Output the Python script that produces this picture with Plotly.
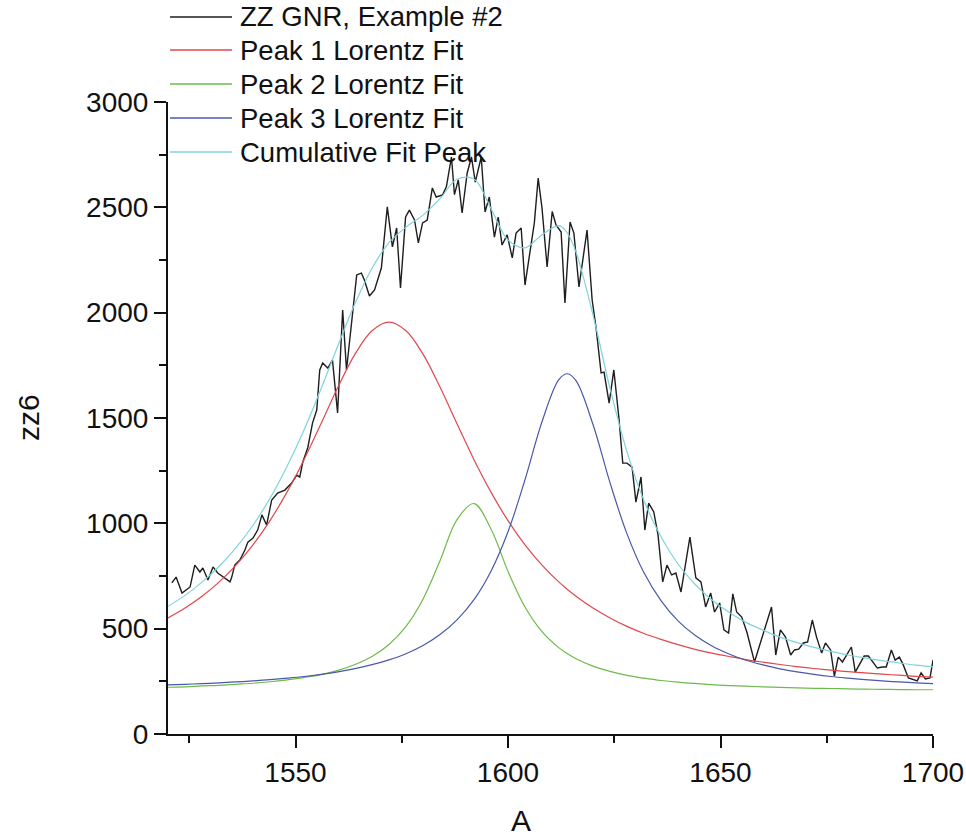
import plotly.graph_objects as go

# ---------------- data ----------------
RAW_X = [1520.9, 1521.9, 1523.3, 1525.2, 1526.3, 1527.5, 1528.2, 1529.4, 1530.6, 1531.7,
         1534.6, 1535.0, 1535.7, 1536.9, 1538.1, 1538.8, 1540.0, 1541.1, 1542.1, 1543.2,
         1544.4, 1545.8, 1547.5, 1549.1, 1550.3, 1551.0, 1551.7, 1552.9, 1554.0, 1555.0,
         1555.7, 1556.4, 1557.6, 1558.7, 1559.9, 1561.1, 1562.0, 1563.2, 1564.4, 1565.5,
         1566.2, 1567.4, 1568.6, 1570.2, 1571.6, 1572.8, 1573.8, 1574.7, 1575.9, 1576.8,
         1578.0, 1578.9, 1579.9, 1581.0, 1582.2, 1583.1, 1584.6, 1585.5, 1586.7, 1587.4,
         1588.3, 1589.2, 1590.4, 1591.4, 1592.3, 1593.7, 1594.6, 1595.6, 1596.8, 1597.7,
         1598.6, 1599.8, 1601.0, 1601.9, 1603.1, 1604.0, 1605.2, 1606.2, 1607.1, 1608.0,
         1609.2, 1610.4, 1611.3, 1612.5, 1613.4, 1614.6, 1615.5, 1616.7, 1618.6, 1619.8,
         1620.7, 1621.9, 1622.6, 1623.8, 1624.9, 1626.1, 1627.0, 1628.0, 1629.2, 1630.1,
         1631.3, 1632.2, 1633.1, 1634.3, 1635.3, 1636.4, 1637.4, 1638.5, 1639.5, 1640.7,
         1642.8, 1644.2, 1645.4, 1646.5, 1647.7, 1648.6, 1649.8, 1650.8, 1651.9, 1652.9,
         1653.8, 1655.0, 1656.2, 1658.0, 1662.0, 1663.0, 1664.1, 1665.3, 1666.5, 1667.4,
         1668.4, 1669.5, 1670.5, 1671.6, 1672.6, 1673.8, 1674.7, 1675.9, 1676.8, 1677.7,
         1678.7, 1680.8, 1681.7, 1682.9, 1683.8, 1684.8, 1686.0, 1686.9, 1688.1, 1689.0,
         1690.2, 1691.1, 1692.1, 1693.0, 1694.2, 1695.4, 1696.3, 1697.2, 1698.2, 1699.3,
         1700.0]
RAW_Y = [717, 745, 669, 698, 802, 769, 788, 731, 793, 764,
         722, 745, 802, 826, 873, 911, 930, 968, 1040, 992,
         1111, 1144, 1158, 1191, 1229, 1220, 1290, 1360, 1476, 1538,
         1728, 1761, 1737, 1775, 1524, 2013, 1728, 1951, 2179, 2188,
         2155, 2079, 2108, 2212, 2502, 2312, 2402, 2117, 2454, 2487,
         2440, 2331, 2426, 2440, 2592, 2549, 2559, 2597, 2739, 2560,
         2630, 2473, 2663, 2739, 2620, 2739, 2478, 2549, 2359, 2454,
         2321, 2369, 2260, 2378, 2402, 2131, 2283, 2426, 2639, 2497,
         2217, 2480, 2416, 2383, 2046, 2430, 2378, 2122, 2392, 2060,
         1932, 1714, 1718, 1571, 1728, 1500, 1286, 1286, 1267, 1101,
         1220, 968, 1096, 1054, 945, 722, 802, 755, 764, 674,
         935, 741, 722, 603, 669, 579, 622, 494, 479, 665,
         579, 555, 484, 342, 603, 375, 494, 460, 375, 399,
         403, 432, 437, 541, 460, 384, 432, 399, 275, 365,
         342, 413, 294, 337, 370, 370, 337, 313, 318, 318,
         399, 351, 365, 328, 266, 256, 252, 290, 261, 266,
         351]

FIT_X = [1520, 1524, 1528, 1532, 1536, 1540, 1544, 1548, 1552, 1556,
         1560, 1564, 1568, 1572, 1576, 1580, 1584, 1588, 1592, 1596,
         1600, 1604, 1608, 1612, 1614, 1616, 1620, 1624, 1628, 1632, 1636,
         1640, 1644, 1648, 1652, 1656, 1660, 1664, 1668, 1672, 1676,
         1680, 1684, 1688, 1692, 1696, 1700]
PEAK1 = [551, 598, 654, 721, 802, 898, 1013, 1148, 1302, 1473,
         1647, 1803, 1914, 1955, 1914, 1803, 1647, 1473, 1302, 1148,
         1013, 898, 802, 721, 686, 654, 598, 551, 511, 477, 449,
         424, 402, 384, 368, 353, 341, 330, 320, 311, 303,
         296, 290, 284, 279, 274, 270]
PEAK2 = [222, 224, 228, 231, 236, 241, 248, 257, 268, 282,
         302, 330, 368, 425, 511, 640, 822, 1018, 1094, 973,
         772, 603, 486, 409, 381, 357, 322, 297, 278, 265, 254,
         246, 240, 234, 230, 227, 224, 221, 219, 217, 216,
         214, 213, 212, 211, 210, 210]
PEAK3 = [233, 236, 239, 243, 247, 252, 258, 265, 273, 283,
         295, 310, 329, 352, 381, 420, 472, 542, 638, 773,
         960, 1207, 1482, 1683, 1710, 1677, 1469, 1193, 950, 765, 633,
         537, 469, 418, 380, 350, 328, 309, 295, 283, 273,
         265, 258, 252, 247, 243, 239]
CUMUL = [606, 658, 721, 795, 885, 991, 1119, 1270, 1443, 1638,
         1844, 2043, 2211, 2332, 2406, 2463, 2541, 2633, 2634, 2494,
         2345, 2308, 2370, 2413, 2377, 2288, 1989, 1641, 1339, 1107, 936,
         807, 711, 636, 578, 530, 493, 460, 434, 411, 392,
         375, 361, 348, 337, 327, 319]

SERIES_NAMES = ["ZZ GNR, Example #2", "Peak 1 Lorentz Fit", "Peak 2 Lorentz Fit",
                "Peak 3 Lorentz Fit", "Cumulative Fit Peak"]
SERIES_COLORS = ["#1e1e1e", "#e0474c", "#6dbb4a", "#4a58a8", "#7fd3dc"]
X_TICKS = [1550, 1600, 1650, 1700]
Y_TICKS = [0, 500, 1000, 1500, 2000, 2500, 3000]
X_TITLE = "A"
Y_TITLE = "zz6"

# ---------------- figure ----------------
FONT = "Liberation Sans, Arial, sans-serif"
OFF = 0  # page body margin is removed by the post script below
W, H = 966 - OFF, 836 - OFF
L, T = 168 - OFF, 102 - OFF
R = W - (933 - OFF)
B = H - (734 - OFF)
PW, PH = W - L - R, H - T - B


def px_x(px):
    return (px - OFF - L) / PW


def px_y(py):
    return (H - B - (py - OFF)) / PH


fig = go.Figure()
fig.add_trace(go.Scatter(x=RAW_X, y=RAW_Y, mode="lines", name=SERIES_NAMES[0],
                         line=dict(color=SERIES_COLORS[0], width=1.4)))
for name, col, ys in zip(SERIES_NAMES[1:], SERIES_COLORS[1:], [PEAK1, PEAK2, PEAK3, CUMUL]):
    fig.add_trace(go.Scatter(x=FIT_X, y=ys, mode="lines", name=name,
                             line=dict(color=col, width=1.2, shape="spline")))

axis_common = dict(showline=True, linecolor="#111", linewidth=2, ticks="outside",
                   ticklen=12, tickwidth=2, tickcolor="#111", showgrid=False,
                   zeroline=False, tickfont=dict(family=FONT, size=28, color="#111"))

fig.update_xaxes(range=[1520, 1700], tickvals=X_TICKS,
                 minor=dict(tickvals=[1525, 1575, 1625, 1675], ticks="outside",
                            ticklen=7, tickwidth=2, tickcolor="#111"),
                 **axis_common)
fig.update_yaxes(range=[0, 3000], tickvals=Y_TICKS,
                 minor=dict(tickvals=[250, 750, 1250, 1750, 2250, 2750], ticks="outside",
                            ticklen=7, tickwidth=2, tickcolor="#111"),
                 **axis_common)

fig.add_annotation(text=X_TITLE, xref="paper", yref="paper", x=px_x(521),
                   y=px_y(820), xanchor="center", yanchor="middle", showarrow=False,
                   font=dict(family=FONT, size=30, color="#111"))
fig.add_annotation(text=Y_TITLE, xref="paper", yref="paper", x=px_x(28),
                   y=px_y(418), xanchor="center", yanchor="middle", showarrow=False,
                   textangle=-90, font=dict(family=FONT, size=30, color="#111"))

# legend drawn as text + line samples (top-left, as in the reference)
LEG_ROWS = [17, 50, 84, 118, 152]
for name, col, ry in zip(SERIES_NAMES, SERIES_COLORS, LEG_ROWS):
    fig.add_shape(type="line", xref="paper", yref="paper",
                  x0=px_x(170), x1=px_x(232), y0=px_y(ry), y1=px_y(ry),
                  line=dict(color=col, width=1.3))
    fig.add_annotation(text=name, xref="paper", yref="paper", x=px_x(238),
                       y=px_y(ry), xanchor="left", yanchor="middle", showarrow=False,
                       font=dict(family=FONT, size=27.5, color="#111"))

fig.update_layout(
    width=W, height=H,
    margin=dict(l=L, r=R, t=T, b=B, autoexpand=False),
    plot_bgcolor="white", paper_bgcolor="white",
    font=dict(family=FONT, size=28, color="#111"),
    showlegend=False,
)

fig.write_html("out.html",
               config={"displayModeBar": False},
               post_script="document.body.style.margin='0px';"
                           "document.body.style.overflow='hidden';")
